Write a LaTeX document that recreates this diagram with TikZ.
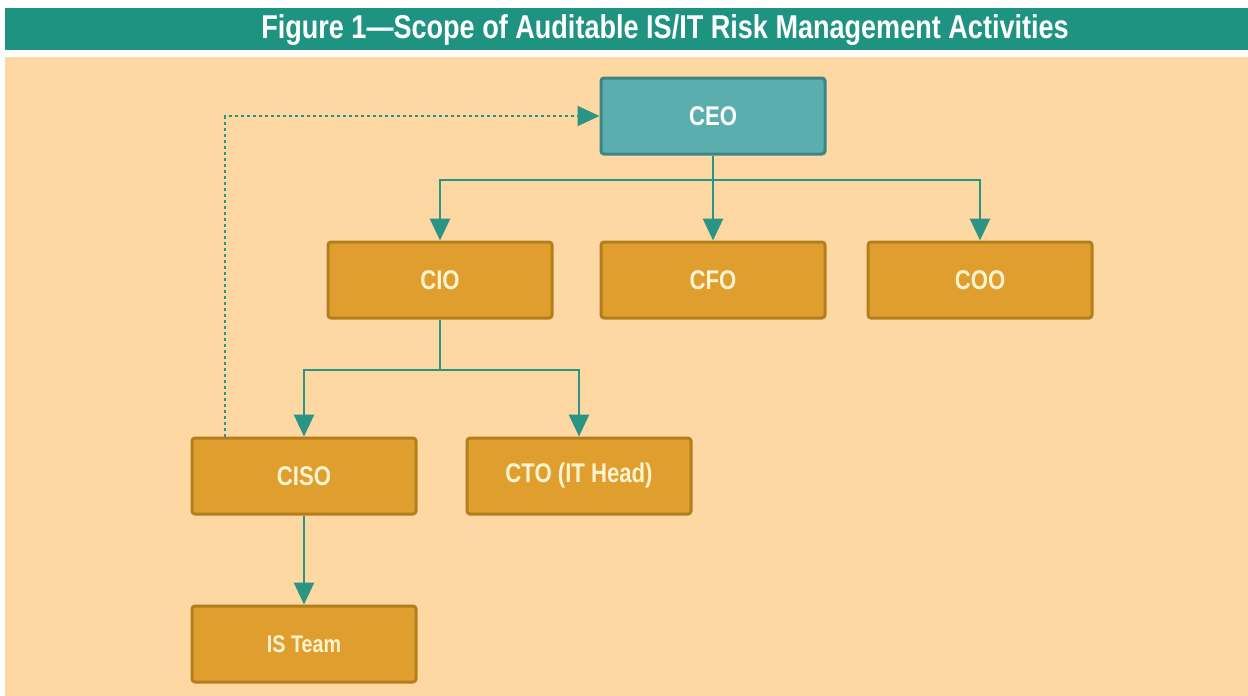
\documentclass[tikz,border=0pt]{standalone}
\usepackage{fontspec}
\setmainfont{Liberation Sans}[FakeStretch=0.82]
\usetikzlibrary{arrows.meta}
\definecolor{peach}{HTML}{FDD8A2}
\definecolor{titlebar}{HTML}{1F9382}
\definecolor{boxfill}{HTML}{DF9E2E}
\definecolor{boxedge}{HTML}{B47E1E}
\definecolor{ceofill}{HTML}{5AAFAE}
\definecolor{ceoedge}{HTML}{3C8584}
\definecolor{linecol}{HTML}{2A9485}
\definecolor{lbl}{HTML}{FFF4D0}
\tikzset{
  orgbox/.style={draw=boxedge, line width=3pt, fill=boxfill, rounded corners=3pt,
    minimum width=224pt, minimum height=76pt, inner sep=0pt,
    font=\fontsize{27}{30}\selectfont\bfseries, text=lbl},
  ceobox/.style={orgbox, draw=ceoedge, fill=ceofill, text=white},
  conn/.style={draw=linecol, line width=2.8pt, -{Triangle[width=20pt,length=22pt]}},
  plain/.style={draw=linecol, line width=2.8pt},
  dconn/.style={draw=linecol, line width=1.8pt, dash pattern=on 3pt off 3pt, -{Triangle[width=20pt,length=22pt]}}
}
\begin{document}
\begin{tikzpicture}[x=1pt,y=-1pt]
\useasboundingbox (0,0) rectangle (1248,696);
\fill[white] (0,0) rectangle (1248,696);
\fill[titlebar] (5,8) rectangle (1248,50);
\fill[peach] (5,57) rectangle (1248,696);
\node (title) at (665,30) {\fontsize{33}{36}\selectfont\bfseries\color{white}Figure 1---Scope of Auditable IS/IT Risk Management Activities};
\node[ceobox] (ceo) at (713,116) {CEO};
\node[orgbox] (cio) at (440,280) {CIO};
\node[orgbox] (cfo) at (713,280) {CFO};
\node[orgbox] (coo) at (980,280) {COO};
\node[orgbox] (ciso) at (304,476) {CISO};
\node[orgbox] (cto) at (579,476) {CTO (IT Head)};
\node[orgbox, font=\fontsize{24}{28}\selectfont\bfseries] (ist) at (304,644) {IS Team};
\coordinate (j1) at (713,180);
\coordinate (j2) at (440,370);
\draw[plain] (ceo.south) -- (j1);
\draw[conn] (j1) -| (cio.north);
\draw[conn] (j1) -- (cfo.north);
\draw[conn] (j1) -| (coo.north);
\draw[plain] (cio.south) -- (j2);
\draw[conn] (j2) -| (ciso.north);
\draw[conn] (j2) -| (cto.north);
\draw[conn] (ciso.south) -- (ist.north);
\coordinate (d0) at ([xshift=-79pt]ciso.north);
\draw[dconn] (d0) |- (ceo.west);
\end{tikzpicture}
\end{document}
